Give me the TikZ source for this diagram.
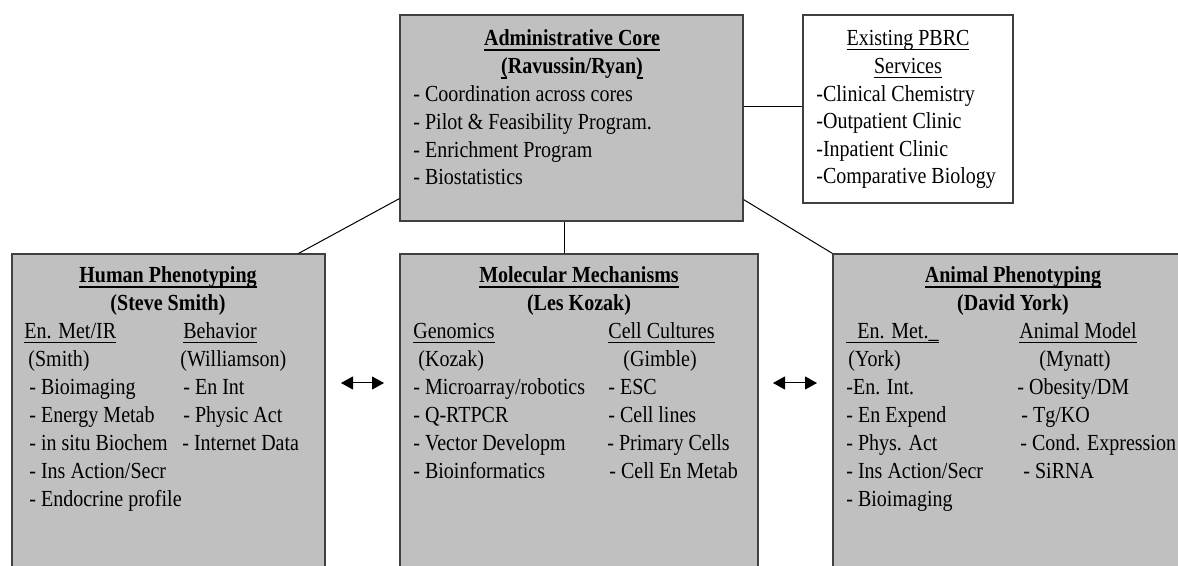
\documentclass[tikz,border=0pt]{standalone}
\usepackage{fontspec}
\setmainfont{Liberation Serif}[FakeStretch=0.87]
\usetikzlibrary{arrows.meta}
\definecolor{boxgray}{RGB}{192,192,192}
\newcommand\fs{\fontsize{11.5}{13.9}\selectfont}
\newsavebox{\myulbox}
\newcommand\ulb[1]{\sbox\myulbox{#1}\rlap{\rule[-2.6pt]{\wd\myulbox}{1.1pt}}\usebox\myulbox}
\newcommand\uln[1]{\sbox\myulbox{#1}\rlap{\rule[-2.1pt]{\wd\myulbox}{0.7pt}}\usebox\myulbox}
\tikzset{
  core/.style={draw=black!75, line width=0.6pt, fill=boxgray, inner sep=0pt},
  plain/.style={draw=black!75, line width=0.6pt, fill=white, inner sep=0pt},
  txt/.style={inner sep=0pt, anchor=base west, font=\fs},
  ttl/.style={inner sep=0pt, anchor=base, font=\fs\bfseries},
  ttn/.style={inner sep=0pt, anchor=base, font=\fs},
  link/.style={draw=black, line width=0.5pt},
  ulmark/.style={draw=black, line width=1.1pt},
  dbl/.style={{Triangle[length=6pt,width=6.5pt]}-{Triangle[length=6pt,width=6.5pt]}, line width=0.5pt}
}
\begin{document}
\begin{tikzpicture}[x=0.5pt,y=-0.5pt]
\useasboundingbox (0,0) rectangle (1178,566);
\clip (0,0) rectangle (1178,566);
% boxes
\node[core, minimum width=171.5pt, minimum height=103pt] (admin) at (571.5,118) {};
\node[plain, minimum width=105pt, minimum height=94pt] (pbrc) at (908,109) {};
\node[core, minimum width=156.5pt, minimum height=170pt] (human) at (168.5,424) {};
\node[core, minimum width=179pt, minimum height=170pt] (molec) at (579,424) {};
\node[core, minimum width=180pt, minimum height=170pt] (animal) at (1013,424) {};
% connectors
\draw[link] ([yshift=1pt]pbrc.west) -- ([yshift=1pt]pbrc.west -| admin.east);
\draw[link] ([xshift=-3.75pt]admin.south) -- ([xshift=-3.75pt]admin.south |- molec.north);
\draw[link] ([yshift=11.5pt]admin.south west) -- ([xshift=-13.5pt]human.north east);
\draw[link] ([yshift=11pt]admin.south east) -- (animal.north west);
\coordinate (l1) at (341,383); \coordinate (l2) at (384,383);
\coordinate (r1) at (773,383); \coordinate (r2) at (817,383);
\draw[dbl] (l1) -- (l2);
\draw[dbl] (r1) -- (r2);
% administrative core
\node[ttl] (adt1) at (572,46) {\ulb{Administrative Core}};
\node[ttl] (adt2) at (572,74) {(Ravussin/Ryan)};
\draw[ulmark] ([yshift=-2.05pt]adt2.base west) -- ++(6.5,0);
\draw[ulmark] ([yshift=-2.05pt]adt2.base east) -- ++(-6.5,0);
\node[txt] (ad1) at (413,102) {- Coordination across cores};
\node[txt] (ad2) at (413,130) {- Pilot \& Feasibility Program.};
\node[txt] (ad3) at (413,158) {- Enrichment Program};
\node[txt] (ad4) at (413,185) {- Biostatistics};
% PBRC
\node[ttn] (pbt1) at (908,46) {\uln{Existing PBRC}};
\node[ttn] (pbt2) at (908,74) {\uln{Services}};
\node[txt] (pb1) at (816,102) {-Clinical Chemistry};
\node[txt] (pb2) at (816,129) {-Outpatient Clinic};
\node[txt] (pb3) at (816,157) {-Inpatient Clinic};
\node[txt] (pb4) at (816,184) {-Comparative Biology};
% human phenotyping
\node[ttl] (hut1) at (168,283) {\ulb{Human Phenotyping}};
\node[ttl] (hut2) at (168,311) {(Steve Smith)};
\node[txt] (hua0) at (24,339) {\uln{En. Met/IR}};
\node[txt] (hua1) at (28,367) {(Smith)};
\node[txt] (hua2) at (29,395) {- Bioimaging};
\node[txt] (hua3) at (29,423) {- Energy Metab};
\node[txt] (hua4) at (29,451) {- in situ Biochem};
\node[txt] (hua5) at (29,479) {- Ins Action/Secr};
\node[txt] (hua6) at (29,507) {- Endocrine profile};
\node[txt] (hub0) at (183,339) {\uln{Behavior}};
\node[txt] (hub1) at (180,367) {(Williamson)};
\node[txt] (hub2) at (183,395) {- En Int};
\node[txt] (hub3) at (183,423) {- Physic Act};
\node[txt] (hub4) at (182,451) {- Internet Data};
% molecular mechanisms
\node[ttl] (mot1) at (579,283) {\ulb{Molecular Mechanisms}};
\node[ttl] (mot2) at (579,311) {(Les Kozak)};
\node[txt] (moa0) at (413,339) {\uln{Genomics}};
\node[txt] (moa1) at (418,367) {(Kozak)};
\node[txt] (moa2) at (413,395) {- Microarray/robotics};
\node[txt] (moa3) at (413,423) {- Q-RTPCR};
\node[txt] (moa4) at (413,451) {- Vector Developm};
\node[txt] (moa5) at (413,479) {- Bioinformatics};
\node[txt] (mob0) at (608,339) {\uln{Cell Cultures}};
\node[txt] (mob1) at (623,367) {(Gimble)};
\node[txt] (mob2) at (608,395) {- ESC};
\node[txt] (mob3) at (608,423) {- Cell lines};
\node[txt] (mob4) at (607,451) {- Primary Cells};
\node[txt] (mob5) at (609,479) {- Cell En Metab};
% animal phenotyping
\node[ttl] (ant1) at (1013,283) {\ulb{Animal Phenotyping}};
\node[ttl] (ant2) at (1013,311) {(David York)};
\node[txt] (ana0) at (846,339) {\uln{\hspace{5.5pt}En. Met.\_}};
\node[txt] (ana1) at (848,367) {(York)};
\node[txt] (ana2) at (846,395) {-En. Int.};
\node[txt] (ana3) at (846,423) {- En Expend};
\node[txt] (ana4) at (846,451) {- Phys. Act};
\node[txt] (ana5) at (846,479) {- Ins Action/Secr};
\node[txt] (ana6) at (846,507) {- Bioimaging};
\node[txt] (anb0) at (1019,339) {\uln{Animal Model}};
\node[txt] (anb1) at (1039,367) {(Mynatt)};
\node[txt] (anb2) at (1017,395) {- Obesity/DM};
\node[txt] (anb3) at (1021,423) {- Tg/KO};
\node[txt] (anb4) at (1020,451) {- Cond. Expression};
\node[txt] (anb5) at (1023,479) {- SiRNA};
\end{tikzpicture}
\end{document}
